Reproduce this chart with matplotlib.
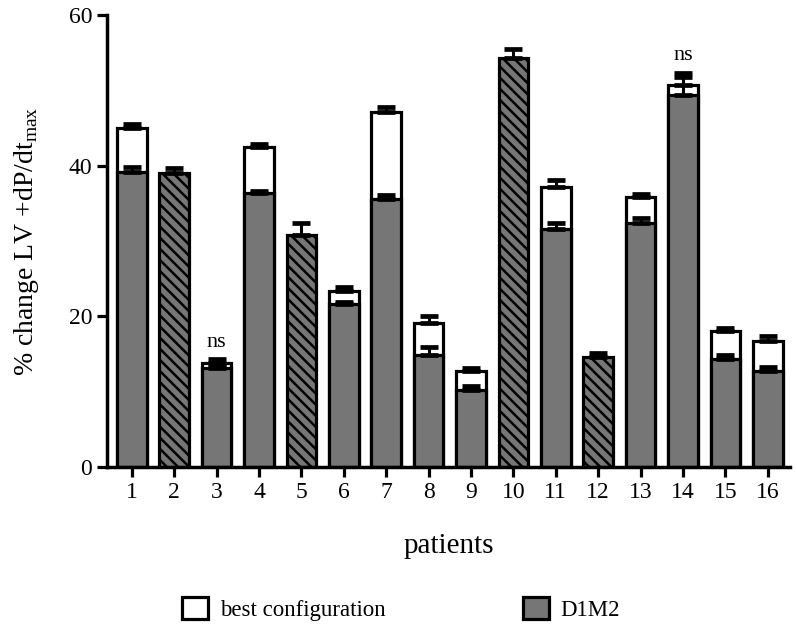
import numpy as np
import matplotlib
matplotlib.use("Agg")
import matplotlib.pyplot as plt
from matplotlib.patches import Patch

plt.rcParams['font.family'] = ['Liberation Serif', 'DejaVu Serif']
plt.rcParams['mathtext.fontset'] = 'custom'
plt.rcParams['mathtext.rm'] = 'Liberation Serif'
plt.rcParams['hatch.linewidth'] = 1.8

# data
patients = list(range(1, 17))
best = [45.0, 39.0, 13.8, 42.5, 30.8, 23.4, 47.2, 19.1, 12.7, 54.3, 37.2, 14.6, 35.8, 50.7, 18.1, 16.8]
best_err = [0.5, 0.7, 0.5, 0.4, 1.6, 0.5, 0.6, 0.9, 0.5, 1.2, 0.9, 0.6, 0.5, 1.7, 0.4, 0.6]
d1m2 = [39.2, 39.0, 13.1, 36.4, 30.8, 21.6, 35.6, 14.9, 10.2, 54.3, 31.6, 14.6, 32.4, 49.4, 14.3, 12.7]
d1m2_err = [0.6, 0.7, 0.4, 0.3, 1.6, 0.3, 0.5, 1.1, 0.5, 1.2, 0.8, 0.6, 0.7, 2.4, 0.6, 0.6]
same = [2, 5, 10, 12]      # best configuration is D1M2 (hatched)
ns_marks = [3, 14]

gray = '#767676'
x = np.array(patients)
fig = plt.figure(figsize=(7.97, 6.38), dpi=100)
ax = fig.add_axes([0.134, 0.268, 0.857, 0.708])

lw = 2.3
eb = dict(fmt='none', ecolor='black', elinewidth=2.2, capsize=6.2, capthick=3.4)
for i, p in enumerate(patients):
    if p in same:
        ax.bar(p, d1m2[i], width=0.7, color=gray, edgecolor='black', linewidth=lw,
               hatch='\\\\\\', zorder=2)
        ax.errorbar(p, d1m2[i], yerr=[[0], [d1m2_err[i]]], zorder=3, **eb)
    else:
        ax.bar(p, best[i], width=0.7, color='white', edgecolor='black', linewidth=lw, zorder=1)
        ax.errorbar(p, best[i], yerr=[[0], [best_err[i]]], zorder=1.5, **eb)
        ax.bar(p, d1m2[i], width=0.7, color=gray, edgecolor='black', linewidth=lw, zorder=2)
        ax.errorbar(p, d1m2[i], yerr=[[0], [d1m2_err[i]]], zorder=3, **eb)

for p in ns_marks:
    i = p - 1
    top = max(best[i] + best_err[i], d1m2[i] + d1m2_err[i])
    ax.text(p, top + 1.0, 'ns', ha='center', va='bottom', fontsize=16)

ax.set_xlim(0.41, 16.52)
ax.set_ylim(0, 60)
ax.set_xticks(x)
ax.set_yticks([0, 20, 40, 60])
ax.tick_params(labelsize=17, width=2.3, length=7)
for s in ['top', 'right']:
    ax.spines[s].set_visible(False)
for s in ['left', 'bottom']:
    ax.spines[s].set_linewidth(2.5)

ax.set_xlabel('patients', fontsize=21, labelpad=22)
ax.set_ylabel('% change LV +dP/dt$_{\\mathrm{max}}$', fontsize=20, labelpad=20)

handles = [Patch(facecolor='white', edgecolor='black', linewidth=2.3),
           Patch(facecolor=gray, edgecolor='black', linewidth=2.3)]
fig.legend(handles, ['best configuration', 'D1M2'], loc='center', ncol=2,
           bbox_to_anchor=(0.503, 0.045), frameon=False, fontsize=16.5,
           handlelength=1.15, handleheight=1.1, handletextpad=0.5, columnspacing=6.0)

fig.savefig('out.png', dpi=100)
